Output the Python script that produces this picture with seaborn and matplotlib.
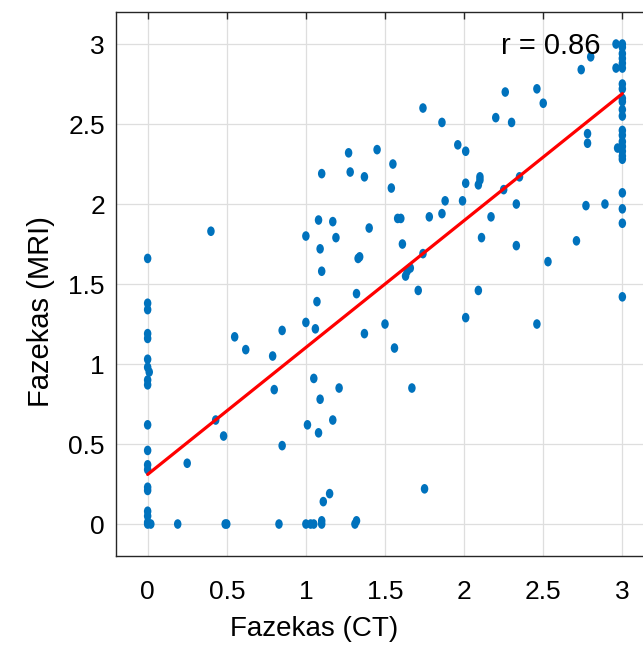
import numpy as np
import pandas as pd
import seaborn as sns
import matplotlib.pyplot as plt
from matplotlib.path import Path
from matplotlib.transforms import Affine2D

# Fazekas scores, CT vs MRI
ct = [0, 0, 0, 0, 0, 0, 0, 0.01, 0, 0, 0, 0, 0, 0, 0, 0, 0, 0, 0, 0.02, 0,
      0.19, 0.25, 0.40, 0.43, 0.48, 0.49, 0.50, 0.55, 0.62, 0.79, 0.80, 0.83, 0.85, 0.85,
      1.00, 1.00, 1.00, 1.03, 1.05, 1.01, 1.05, 1.06, 1.07, 1.08, 1.08, 1.09, 1.09, 1.10,
      1.10, 1.10, 1.10, 1.11, 1.15, 1.17, 1.17, 1.19, 1.21, 1.27, 1.28, 1.31, 1.32, 1.32,
      1.33, 1.34, 1.37, 1.37, 1.40, 1.45, 1.50, 1.55, 1.54, 1.56, 1.58, 1.60, 1.61, 1.63,
      1.64, 1.66, 1.67, 1.71, 1.74, 1.74, 1.75, 1.78, 1.86, 1.86, 1.88, 1.96, 1.99, 2.01,
      2.01, 2.01, 2.09, 2.09, 2.10, 2.10, 2.11, 2.17, 2.20, 2.25, 2.26, 2.30, 2.33, 2.33,
      2.35, 2.46, 2.46, 2.50, 2.53, 2.71, 2.74, 2.77, 2.78, 2.78, 2.80, 2.89, 2.96, 2.96,
      2.97,
      3, 3, 3, 3, 3, 3, 3, 3, 3, 3, 3, 3, 3, 3, 3, 3, 3, 3, 3, 3, 3, 3, 3]
mri = [1.66, 1.38, 1.34, 1.19, 1.16, 1.03, 0.98, 0.95, 0.90, 0.87, 0.62, 0.46, 0.37, 0.34,
       0.23, 0.21, 0.08, 0.05, 0.0, 0.0, 0.01,
       0.0, 0.38, 1.83, 0.65, 0.55, 0.0, 0.0, 1.17, 1.09, 1.05, 0.84, 0.0, 0.49, 1.21,
       1.26, 1.80, 0.0, 0.0, 0.0, 0.62, 0.91, 1.22, 1.39, 1.90, 0.57, 1.72, 0.78, 2.19,
       1.58, 0.02, 0.0, 0.14, 0.19, 0.65, 1.89, 1.79, 0.85, 2.32, 2.20, 0.0, 0.02, 1.44,
       1.66, 1.67, 2.17, 1.19, 1.85, 2.34, 1.25, 2.25, 2.10, 1.10, 1.91, 1.91, 1.75, 1.55,
       1.58, 1.60, 0.85, 1.46, 1.69, 2.60, 0.22, 1.92, 2.51, 1.94, 2.02, 2.37, 2.02, 1.29,
       2.33, 2.13, 1.46, 2.12, 2.15, 2.17, 1.79, 1.92, 2.54, 2.09, 2.70, 2.51, 2.00, 1.74,
       2.17, 2.72, 1.25, 2.63, 1.64, 1.77, 2.84, 1.99, 2.44, 2.38, 2.92, 2.00, 3.00, 2.85,
       2.35,
       3.00, 2.98, 2.94, 2.91, 2.88, 2.85, 2.75, 2.72, 2.66, 2.64, 2.59, 2.55, 2.46, 2.43,
       2.39, 2.36, 2.33, 2.30, 2.28, 2.07, 1.97, 1.88, 1.42]

# least-squares line as drawn in the reference
fit_x = [0, 3]
fit_y = [0.31, 2.69]
r_value = 0.86

ticks = [0, 0.5, 1, 1.5, 2, 2.5, 3]
tick_labels = ["0", "0.5", "1", "1.5", "2", "2.5", "3"]

df = pd.DataFrame({"ct": ct, "mri": mri})
fit = pd.DataFrame({"ct": fit_x, "mri": fit_y})

sns.set_style("white")
plt.rcParams["font.family"] = ["Liberation Sans", "DejaVu Sans"]
plt.rcParams["text.color"] = "black"
plt.rcParams["axes.labelcolor"] = "black"

fig = plt.figure(figsize=(6.43, 6.54), dpi=100)
ax = fig.add_axes([0.1804, 0.1498, 0.8367, 0.8318])

# slightly tall ellipse marker (reference is horizontally squeezed)
ell = Affine2D().scale(0.78, 1.0).transform_path(Path.unit_circle())

sns.scatterplot(data=df, x="ct", y="mri", ax=ax, marker=ell, s=48,
                color="#0072BD", edgecolor="none", linewidth=0, zorder=3)
sns.lineplot(data=fit, x="ct", y="mri", ax=ax, color="#FF0000", linewidth=2.3, zorder=4)

ax.set_xlim(-0.2, 3.2)
ax.set_ylim(-0.2, 3.2)
ax.set_xticks(ticks)
ax.set_xticklabels(tick_labels)
ax.set_yticks(ticks)
ax.set_yticklabels(tick_labels)
ax.grid(True, color="#dedede", linewidth=0.9)
ax.set_axisbelow(True)

for side in ["left", "bottom", "top", "right"]:
    ax.spines[side].set_color("#262626")
    ax.spines[side].set_linewidth(1.0)

ax.tick_params(axis="both", direction="in", length=5, width=1, color="#262626",
               labelcolor="black", labelsize=19, top=True, right=True)
ax.tick_params(axis="x", pad=17)
ax.tick_params(axis="y", pad=8)

ax.set_xlabel("Fazekas (CT)", fontsize=20)
ax.set_ylabel("Fazekas (MRI)", fontsize=21)
ax.xaxis.set_label_coords(0.368, -0.11)
ax.yaxis.set_label_coords(-0.113, 0.449)

ax.text(2.234, 2.94, f"r = {r_value:.2f}", fontsize=21, ha="left", va="baseline")

fig.savefig("out.png", dpi=100)
